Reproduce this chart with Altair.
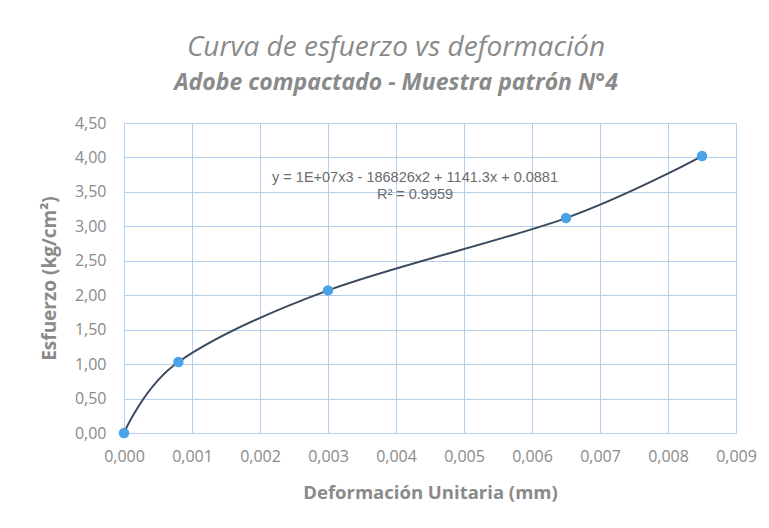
import altair as alt
import pandas as pd

# Data
deformacion = [0.0, 0.0008, 0.0030, 0.0065, 0.0085]
esfuerzo = [0.00, 1.03, 2.07, 3.12, 4.02]

eq_lines = ["y = 1E+07x3 - 186826x2 + 1141.3x + 0.0881", "R² = 0.9959"]
eq_x = [0.00428, 0.00428]
eq_y = [3.70, 3.45]

x_ticks = [0.000, 0.001, 0.002, 0.003, 0.004, 0.005, 0.006, 0.007, 0.008, 0.009]
y_ticks = [0.0, 0.5, 1.0, 1.5, 2.0, 2.5, 3.0, 3.5, 4.0, 4.5]

df = pd.DataFrame({"x": deformacion, "y": esfuerzo})
eq_df = pd.DataFrame({"x": eq_x, "y": eq_y, "t": eq_lines})

GRID = "#b3d1ee"
TXT = "#8a8a8a"
FONT = "Open Sans"

xenc = alt.X(
    "x:Q",
    scale=alt.Scale(domain=[0, 0.009], nice=False, zero=False),
    axis=alt.Axis(
        values=x_ticks,
        title="Deformación Unitaria (mm)",
        labelExpr="replace(format(datum.value, '.3f'), '.', ',')",
        grid=True, gridColor=GRID, gridWidth=1,
        domain=False, ticks=False, labelFlush=False, labelOverlap=False,
        labelFont=FONT, labelFontSize=16, labelColor=TXT, labelPadding=15,
        titleFont=FONT, titleFontSize=18.5, titleFontWeight="bold", titleColor=TXT,
        titlePadding=19,
    ),
)
yenc = alt.Y(
    "y:Q",
    scale=alt.Scale(domain=[0, 4.5], nice=False),
    axis=alt.Axis(
        values=y_ticks,
        title="Esfuerzo (kg/cm²)",
        labelExpr="replace(format(datum.value, '.2f'), '.', ',')",
        grid=True, gridColor=GRID, gridWidth=1,
        domain=False, ticks=False, labelFlush=False, labelOverlap=False,
        labelFont=FONT, labelFontSize=16, labelColor=TXT, labelPadding=18,
        titleFont=FONT, titleFontSize=19, titleFontWeight="bold", titleColor=TXT,
        titlePadding=15,
    ),
)

line = alt.Chart(df).mark_line(
    interpolate="cardinal", color="#3b4a5c", strokeWidth=2
).encode(x=xenc, y=yenc)

pts = alt.Chart(df).mark_circle(
    size=110, color="#4aa3e6", opacity=1
).encode(x=xenc, y=yenc)

eq = alt.Chart(eq_df).mark_text(
    font="Liberation Sans", fontSize=14.5, color="#6b6b6b", align="center", baseline="middle"
).encode(x=xenc, y=yenc, text="t:N")

chart = alt.layer(line, pts, eq).properties(
    width=612,
    height=310,
    title=alt.TitleParams(
        text="Curva de esfuerzo vs deformación",
        subtitle="Adobe compactado - Muestra patrón N°4",
        font=FONT, fontSize=28, fontStyle="italic", fontWeight="normal", color=TXT,
        subtitleFont=FONT, subtitleFontSize=23, subtitleFontStyle="italic",
        subtitleFontWeight="bold", subtitleColor=TXT, subtitlePadding=10,
        anchor="middle", dx=-34, offset=20,
    ),
    autosize=alt.AutoSizeParams(type="none"),
    padding={"left": 116, "top": 115, "right": 25, "bottom": 87},
).configure_view(stroke=GRID, strokeWidth=1).configure(background="white")

chart.save("out.html", embed_options={"renderer": "svg", "actions": False})
